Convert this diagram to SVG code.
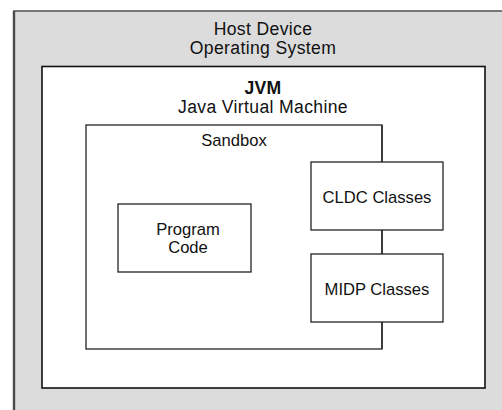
<svg xmlns="http://www.w3.org/2000/svg" width="502" height="410" viewBox="0 0 502 410">
  <style>
    .lbl { font-family: "Liberation Sans", Arial, sans-serif; fill: #111; text-anchor: middle; }
    .big { font-size: 17.6px; letter-spacing: 0.35px; }
    .small { font-size: 16.6px; }
    .box { fill: #ffffff; stroke: #222; stroke-width: 1.3; }
  </style>
  <rect width="502" height="410" fill="#ffffff"/>

  <!-- Host device / operating system layer -->
  <g id="host-os">
    <rect x="14" y="11" width="500" height="410" fill="#dcdcdc" stroke="#5a5a5a" stroke-width="1.6"/>
    <line x1="14" y1="11" x2="14" y2="410" stroke="#4a4a4a" stroke-width="2.4"/>
    <text class="lbl big" x="263" y="34.5">Host Device</text>
    <text class="lbl big" x="263" y="53.5">Operating System</text>
  </g>

  <!-- Java virtual machine -->
  <g id="jvm">
    <rect x="42" y="66.5" width="443" height="321.5" fill="#ffffff" stroke="#111" stroke-width="1.6"/>
    <text class="lbl big" x="263" y="93.5" font-weight="bold">JVM</text>
    <text class="lbl big" x="263" y="112.5">Java Virtual Machine</text>
  </g>

  <!-- Sandbox boundary -->
  <g id="sandbox">
    <rect x="86" y="125" width="296" height="224" fill="none" stroke="#222" stroke-width="1.3"/>
    <text class="lbl small" x="234" y="146">Sandbox</text>
  </g>

  <!-- Links along the sandbox edge -->
  <g id="connectors" stroke="#222" stroke-width="1.3" fill="none">
    <line x1="382" y1="125" x2="382" y2="162"/>
    <line x1="382" y1="230" x2="382" y2="254"/>
    <line x1="382" y1="322" x2="382" y2="349"/>
  </g>

  <g id="program-code">
    <rect class="box" x="118" y="204" width="133" height="68"/>
    <text class="lbl small" x="188" y="235">Program</text>
    <text class="lbl small" x="188" y="253">Code</text>
  </g>

  <g id="cldc-classes">
    <rect class="box" x="311" y="162" width="132" height="68"/>
    <text class="lbl small" x="377" y="203">CLDC Classes</text>
  </g>

  <g id="midp-classes">
    <rect class="box" x="311" y="254" width="132" height="68"/>
    <text class="lbl small" x="377" y="295">MIDP Classes</text>
  </g>
</svg>
